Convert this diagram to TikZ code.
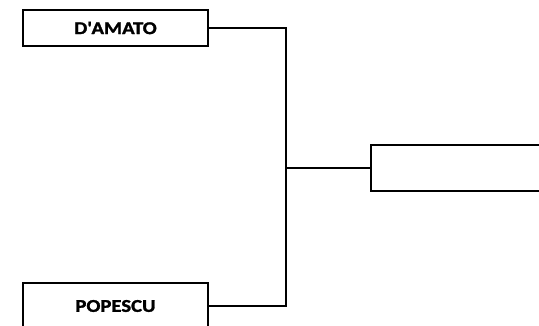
\documentclass[tikz,border=0pt]{standalone}
\usepackage{fontspec}
\newfontfamily\lblfont[FakeStretch=1.15,FakeBold=1.5]{Carlito}
\begin{document}
\begin{tikzpicture}[x=1pt,y=-1pt,
  namebox/.style={draw, line width=1.8pt, minimum width=185pt, inner sep=0pt, font=\lblfont\bfseries\fontsize{18}{20}\selectfont},
  link/.style={draw, line width=1.2pt}]
\clip (0,0) rectangle (539,326);
\node[namebox, minimum height=36pt] (a) at (115.5,28) {D\textquotesingle AMATO};
\node[namebox, minimum height=46pt] (b) at (115.5,306) {POPESCU};
\node[namebox, minimum height=46pt] (c) at (463.5,168) {};
\coordinate (j) at (286,168);
\draw[link] (a.east) -| (j) |- (b.east);
\draw[link] (j) -- (c.west);
\end{tikzpicture}
\end{document}
